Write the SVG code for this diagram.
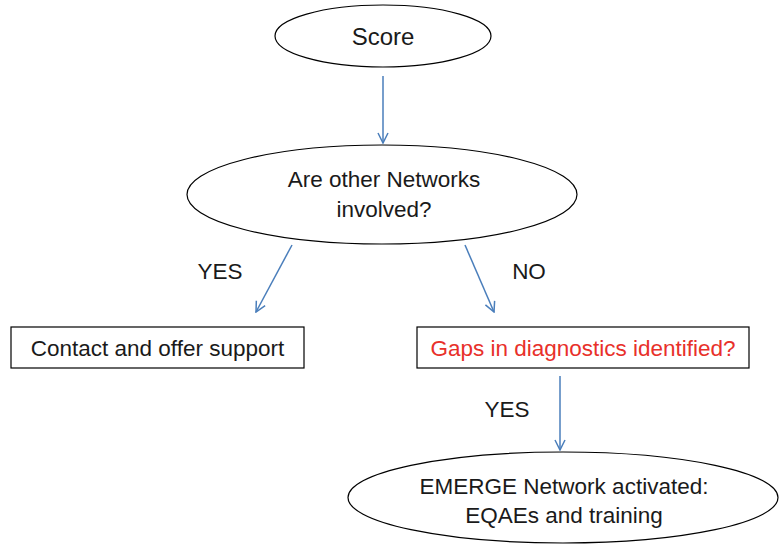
<svg xmlns="http://www.w3.org/2000/svg" width="781" height="545" viewBox="0 0 781 545">
<style>
.shape{fill:#ffffff;stroke:#000000;stroke-width:1.2}
.t{font-family:"Liberation Sans",Arial,sans-serif;font-size:22.5px;fill:#1a1a1a;text-anchor:middle}
.red{fill:#e8302a}
.conn{stroke:#4a7ebb;stroke-width:1.5;fill:none;marker-end:url(#arr)}
</style>
<defs>
<marker id="arr" viewBox="0 0 12 12" refX="11" refY="6" markerWidth="12" markerHeight="12" markerUnits="userSpaceOnUse" orient="auto">
<path d="M1,1 L11,6 L1,11" fill="none" stroke="#4a7ebb" stroke-width="1.5"/>
</marker>
</defs>
<rect width="781" height="545" fill="#ffffff"/>
<g id="connectors">
<line class="conn" x1="383" y1="76" x2="383" y2="143"/>
<line class="conn" x1="292" y1="245" x2="256" y2="312"/>
<line class="conn" x1="465" y1="245" x2="494" y2="312"/>
<line class="conn" x1="560" y1="376" x2="560" y2="450"/>
<text class="t" x="220" y="279">YES</text>
<text class="t" x="529" y="279">NO</text>
<text class="t" x="507" y="417">YES</text>
</g>
<g id="score">
<ellipse class="shape" cx="383" cy="36" rx="108" ry="31"/>
<text class="t" x="383" y="45" style="font-size:24px">Score</text>
</g>
<g id="networks">
<ellipse class="shape" cx="382" cy="194.5" rx="195" ry="49.5"/>
<text class="t" x="384" y="187">Are other Networks</text>
<text class="t" x="384" y="217">involved?</text>
</g>
<g id="contact">
<rect class="shape" x="11" y="327" width="293" height="41"/>
<text class="t" x="157.5" y="356">Contact and offer support</text>
</g>
<g id="gaps">
<rect class="shape" x="417" y="327" width="332" height="41"/>
<text class="t red" x="583" y="356">Gaps in diagnostics identified?</text>
</g>
<g id="emerge">
<ellipse class="shape" cx="563" cy="497.5" rx="215" ry="45.5"/>
<text class="t" x="564" y="494">EMERGE Network activated:</text>
<text class="t" x="564" y="523">EQAEs and training</text>
</g>
</svg>
